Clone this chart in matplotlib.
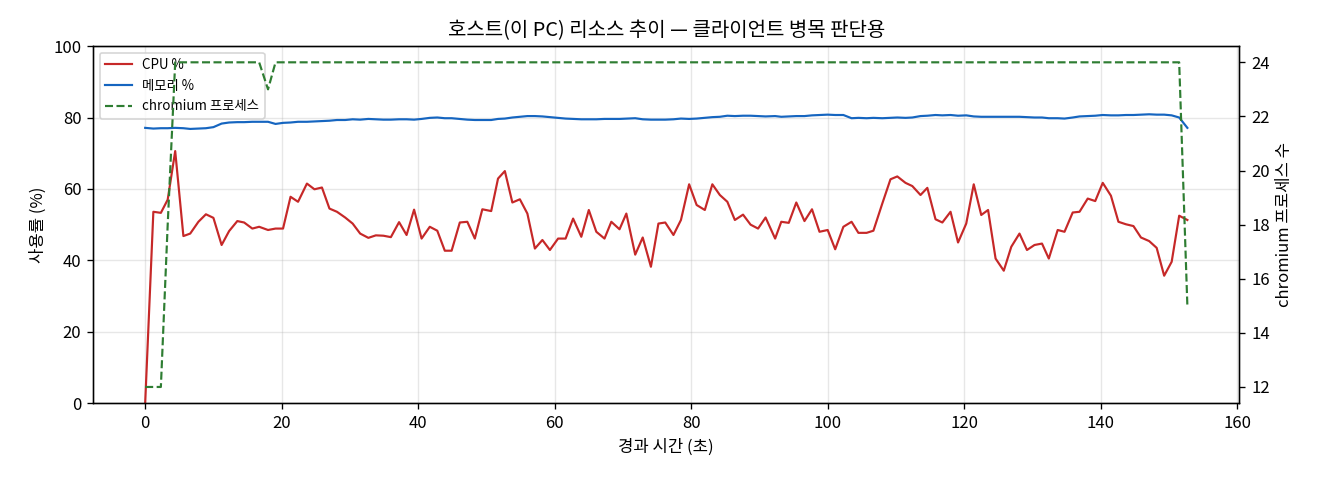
import matplotlib
matplotlib.use("Agg")
import matplotlib.pyplot as plt

plt.rcParams['font.family'] = ['Noto Sans CJK KR', 'DejaVu Sans']
plt.rcParams['axes.unicode_minus'] = False

title = "호스트(이 PC) 리소스 추이 — 클라이언트 병목 판단용"
xlabel = "경과 시간 (초)"
ylabel_left = "사용률 (%)"
ylabel_right = "chromium 프로세스 수"
label_cpu = "CPU %"
label_mem = "메모리 %"
label_chrom = "chromium 프로세스"

elapsed = [0.0, 1.2, 2.3, 3.3, 4.4, 5.6, 6.6, 7.8, 8.9, 10.0,
           11.2, 12.3, 13.5, 14.5, 15.7, 16.7, 18.0, 19.1, 20.2, 21.3,
           22.4, 23.7, 24.8, 25.9, 27.0, 28.1, 29.3, 30.4, 31.5, 32.7,
           33.8, 34.9, 36.0, 37.2, 38.3, 39.4, 40.5, 41.7, 42.8, 43.9,
           44.9, 46.1, 47.2, 48.3, 49.4, 50.7, 51.7, 52.7, 53.8, 54.9,
           56.0, 57.1, 58.2, 59.3, 60.5, 61.6, 62.7, 63.9, 65.0, 66.1,
           67.3, 68.3, 69.5, 70.5, 71.8, 72.9, 74.1, 75.2, 76.2, 77.4,
           78.5, 79.7, 80.8, 82.0, 83.1, 84.2, 85.3, 86.4, 87.6, 88.7,
           89.8, 90.9, 92.3, 93.2, 94.3, 95.4, 96.6, 97.7, 98.8, 100.0,
           101.1, 102.3, 103.5, 104.5, 105.7, 106.7, 108.0, 109.2, 110.2, 111.4,
           112.4, 113.6, 114.6, 115.8, 116.8, 118.0, 119.1, 120.3, 121.4, 122.5,
           123.5, 124.6, 125.8, 126.9, 128.1, 129.2, 130.3, 131.4, 132.4, 133.7,
           134.7, 135.9, 136.9, 138.1, 139.2, 140.3, 141.5, 142.6, 143.7, 144.8,
           145.9, 147.1, 148.2, 149.3, 150.4, 151.5, 152.7]

cpu = [0.0, 53.6, 53.3, 57.0, 70.6, 46.8, 47.5, 50.8, 52.9, 51.9,
       44.3, 48.2, 51.0, 50.6, 48.9, 49.4, 48.5, 48.9, 48.9, 57.8,
       56.4, 61.5, 59.9, 60.4, 54.5, 53.6, 52.0, 50.3, 47.5, 46.3,
       47.0, 46.9, 46.5, 50.7, 47.1, 54.2, 46.1, 49.4, 48.3, 42.7,
       42.7, 50.6, 50.8, 46.1, 54.3, 53.8, 62.9, 65.0, 56.2, 57.1,
       53.1, 43.3, 45.7, 42.9, 46.1, 46.1, 51.7, 46.6, 54.1, 48.0,
       46.1, 50.8, 48.7, 53.1, 41.6, 46.4, 38.2, 50.3, 50.6, 47.1,
       51.3, 61.3, 55.5, 54.1, 61.3, 58.3, 56.4, 51.3, 52.8, 50.0,
       48.9, 52.0, 46.1, 50.8, 50.5, 56.2, 51.0, 54.3, 48.0, 48.5,
       43.1, 49.4, 50.8, 47.7, 47.7, 48.3, 55.9, 62.7, 63.5, 61.7,
       60.8, 58.3, 60.3, 51.5, 50.6, 53.6, 45.0, 50.3, 61.3, 52.7,
       54.1, 40.5, 37.1, 43.8, 47.5, 42.9, 44.3, 44.7, 40.5, 48.5,
       48.0, 53.4, 53.6, 57.3, 56.6, 61.7, 58.1, 50.8, 50.1, 49.6,
       46.4, 45.4, 43.5, 35.7, 39.6, 52.5, 51.3]

memory = [77.1, 76.9, 77.0, 77.0, 77.1, 77.0, 76.8, 76.9, 77.0, 77.3,
          78.3, 78.6, 78.7, 78.7, 78.8, 78.8, 78.8, 78.2, 78.5, 78.6,
          78.8, 78.8, 78.9, 79.0, 79.1, 79.3, 79.3, 79.5, 79.4, 79.6,
          79.5, 79.4, 79.4, 79.5, 79.5, 79.4, 79.6, 79.9, 80.0, 79.8,
          79.8, 79.6, 79.4, 79.3, 79.3, 79.3, 79.6, 79.7, 80.0, 80.2,
          80.4, 80.4, 80.3, 80.1, 79.9, 79.7, 79.6, 79.5, 79.5, 79.5,
          79.6, 79.6, 79.6, 79.7, 79.8, 79.5, 79.4, 79.4, 79.4, 79.5,
          79.7, 79.6, 79.7, 79.9, 80.1, 80.2, 80.5, 80.4, 80.5, 80.5,
          80.4, 80.3, 80.4, 80.2, 80.3, 80.4, 80.4, 80.6, 80.7, 80.8,
          80.7, 80.7, 79.8, 79.9, 79.8, 79.9, 79.8, 79.9, 80.0, 79.9,
          80.0, 80.4, 80.5, 80.7, 80.6, 80.7, 80.5, 80.6, 80.3, 80.2,
          80.2, 80.2, 80.2, 80.2, 80.2, 80.1, 80.0, 80.0, 79.8, 79.8,
          79.7, 80.0, 80.3, 80.4, 80.5, 80.7, 80.6, 80.6, 80.7, 80.7,
          80.8, 80.9, 80.8, 80.8, 80.6, 80.0, 77.1]

chromium = [12, 12, 12, 18, 24, 24, 24, 24, 24, 24,
            24, 24, 24, 24, 24, 24, 23, 24, 24, 24,
            24, 24, 24, 24, 24, 24, 24, 24, 24, 24,
            24, 24, 24, 24, 24, 24, 24, 24, 24, 24,
            24, 24, 24, 24, 24, 24, 24, 24, 24, 24,
            24, 24, 24, 24, 24, 24, 24, 24, 24, 24,
            24, 24, 24, 24, 24, 24, 24, 24, 24, 24,
            24, 24, 24, 24, 24, 24, 24, 24, 24, 24,
            24, 24, 24, 24, 24, 24, 24, 24, 24, 24,
            24, 24, 24, 24, 24, 24, 24, 24, 24, 24,
            24, 24, 24, 24, 24, 24, 24, 24, 24, 24,
            24, 24, 24, 24, 24, 24, 24, 24, 24, 24,
            24, 24, 24, 24, 24, 24, 24, 24, 24, 24,
            24, 24, 24, 24, 24, 24, 15]

fig, ax = plt.subplots(figsize=(11, 4), dpi=120)
fig.subplots_adjust(left=0.0705, right=0.939, top=0.904, bottom=0.160)

l1, = ax.plot(elapsed, cpu, color='#c62828', lw=1.3, label=label_cpu)
l2, = ax.plot(elapsed, memory, color='#1565c0', lw=1.3, label=label_mem)
ax.set_ylim(0, 100)
ax.set_xlabel(xlabel, fontsize=10)
ax.set_ylabel(ylabel_left, fontsize=10)
ax.grid(True, alpha=0.3)

ax2 = ax.twinx()
l3, = ax2.plot(elapsed, chromium, color='#2e7d32', lw=1.3, ls='--', label=label_chrom)
ax2.set_ylabel(ylabel_right, fontsize=10)

ax.set_title(title, fontsize=12)
ax.legend(handles=[l1, l2, l3], loc='upper left', fontsize=8)

fig.savefig('out.png', dpi=120)
